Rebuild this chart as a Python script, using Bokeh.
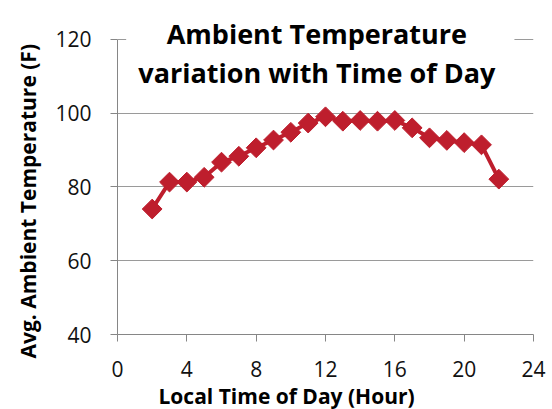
import math
from bokeh.plotting import figure
from bokeh.models import Label, BoxAnnotation, FixedTicker, Range1d, Title
from bokeh.embed import file_html
from bokeh.resources import INLINE

hours = [2, 3, 4, 5, 6, 7, 8, 9, 10, 11, 12, 13, 14, 15, 16, 17, 18, 19, 20, 21, 22]
temps = [74.0, 81.3, 81.3, 82.6, 86.7, 88.3, 90.6, 92.7, 94.8, 97.3, 99.0, 97.8, 98.0,
         97.8, 98.0, 96.0, 93.3, 92.6, 92.0, 91.4, 82.1]
x_ticks = [0, 4, 8, 12, 16, 20, 24]
y_ticks = [40, 60, 80, 100, 120]

title_lines = ["Ambient Temperature", "variation with Time of Day"]
x_title = "Local Time of Day (Hour)"
y_title = "Avg. Ambient Temperature (F)"

RED = "#BE1E2D"
GRID = "#9a9a9a"
AXIS = "#868686"
FONT = "Open Sans"

# frame extends above 120 so that the overlapping chart title can be drawn inside it
p = figure(width=552, height=409, output_backend="svg", toolbar_location=None,
           x_range=Range1d(0, 24), y_range=Range1d(40, 129.7),
           min_border_left=117, min_border_right=19, min_border_top=3, min_border_bottom=73)
p.outline_line_color = None
p.background_fill_color = "white"

p.xgrid.grid_line_color = None
p.ygrid.grid_line_color = GRID
p.ygrid.grid_line_width = 1
p.ygrid.bounds = (40, 120)

for ax in (p.xaxis[0], p.yaxis[0]):
    ax.axis_line_color = AXIS
    ax.major_tick_line_color = AXIS
    ax.minor_tick_line_color = None
    ax.major_tick_in = 0
    ax.major_tick_out = 7
    ax.major_label_text_font = FONT
    ax.major_label_text_font_size = "21px"
    ax.major_label_text_color = "#111111"
p.xaxis.ticker = FixedTicker(ticks=x_ticks)
p.yaxis.ticker = FixedTicker(ticks=y_ticks)
p.yaxis.bounds = (40, 120)
p.xaxis.major_label_standoff = 19
p.yaxis.major_label_standoff = 19

p.line(hours, temps, line_color=RED, line_width=4)
p.scatter(hours, temps, marker="square", angle=math.pi / 4, size=14,
          fill_color=RED, line_color=RED)

# title backdrop (hides the 120 gridline behind the title, as in the reference)
p.add_layout(BoxAnnotation(left=0.5, right=22.9, bottom=108, top=129.7,
                           fill_color="white", fill_alpha=1.0, line_color=None))

p.add_layout(Label(x=11.5, y=121.6, text=title_lines[0], text_align="center",
                   text_baseline="alphabetic", text_font=FONT, text_font_style="bold",
                   text_font_size="27px", text_color="black"))
p.add_layout(Label(x=11.5, y=110.9, text=title_lines[1], text_align="center",
                   text_baseline="alphabetic", text_font=FONT, text_font_style="bold",
                   text_font_size="27px", text_color="black"))

xt = Title(text=x_title, align="left", offset=41, text_font=FONT,
           text_font_style="bold", text_font_size="21px", text_color="black")
yt = Title(text=y_title, align="left", offset=-24, text_font=FONT,
           text_font_style="bold", text_font_size="21px", text_color="black")
if "standoff" in Title.properties():
    xt.standoff = 0
    yt.standoff = 21
p.add_layout(xt, "below")
p.add_layout(yt, "left")

open("out.html", "w").write(file_html(p, INLINE))
